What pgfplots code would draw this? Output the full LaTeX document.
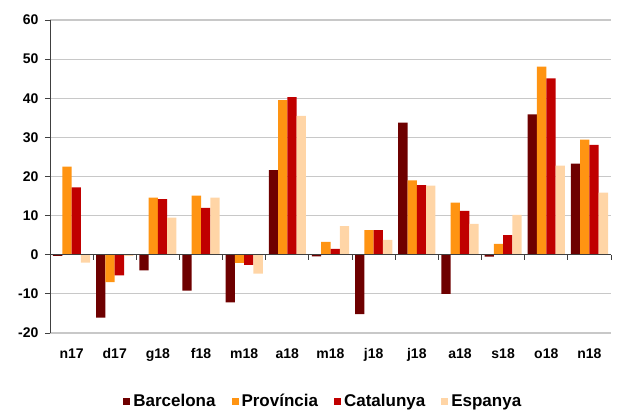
\documentclass[border=0pt]{standalone}
\usepackage{pgfplots}
\pgfplotsset{compat=1.18}
\usepackage{fontspec}
\setmainfont{Liberation Sans}
\definecolor{cB}{HTML}{6E0000}
\definecolor{cP}{HTML}{FF9412}
\definecolor{cC}{HTML}{C00000}
\definecolor{cE}{HTML}{FFD5A6}
\definecolor{gridc}{HTML}{C8C8C8}
\definecolor{axc}{HTML}{404040}
\begin{document}
\begin{tikzpicture}
\path[use as bounding box] (-50pt,-79pt) rectangle (567pt,333pt);
\begin{axis}[
  scale only axis,
  width=561pt, height=313pt,
  xmin=-0.5, xmax=12.5,
  ymin=-20, ymax=60,
  ytick={-20,-10,...,60},
  xtick={0,...,12},
  xticklabels={n17,d17,g18,f18,m18,a18,m18,j18,j18,a18,s18,o18,n18},
  axis y line*=left,
  axis x line*=bottom,
  x axis line style={draw=none},
  y axis line style={draw=axc, line width=1pt, -},
  xtick style={draw=none},
  ytick style={draw=axc, line width=1pt},
  tick align=outside,
  major tick length=5pt,
  ymajorgrids,
  grid style={draw=gridc, line width=1.2pt},
  /pgf/number format/assume math mode=true,
  ticklabel style={font=\bfseries\fontsize{14}{14}\selectfont},
  xticklabel style={yshift=-7pt},
  yticklabel style={xshift=-3pt},
  ybar=0pt, bar width=9.3pt,
  legend columns=4,
  legend style={at={(0.488,-0.22)}, anchor=center, draw=none, fill=none,
    font=\bfseries\fontsize{17}{17}\selectfont,
    /tikz/every even column/.append style={column sep=13pt},
    nodes={inner xsep=3pt, text height=12.5pt, text depth=3.5pt},
    inner xsep=0pt},
  legend image code/.code={\path[#1,draw=none] (0pt,-3.5pt) rectangle (7pt,3.5pt);},
  clip=false,
]
\addplot[fill=cB, draw=none] coordinates {(0,-0.3) (1,-16.1) (2,-4.0) (3,-9.2) (4,-12.2) (5,21.6) (6,-0.4) (7,-15.2) (8,33.8) (9,-10.0) (10,-0.5) (11,35.9) (12,23.3)};
\addplot[fill=cP, draw=none] coordinates {(0,22.5) (1,-7.0) (2,14.6) (3,15.1) (4,-2.1) (5,39.5) (6,3.3) (7,6.3) (8,19.0) (9,13.3) (10,2.8) (11,48.1) (12,29.4)};
\addplot[fill=cC, draw=none] coordinates {(0,17.2) (1,-5.3) (2,14.2) (3,12.0) (4,-2.6) (5,40.3) (6,1.5) (7,6.3) (8,17.8) (9,11.2) (10,5.0) (11,45.1) (12,28.1)};
\addplot[fill=cE, draw=none] coordinates {(0,-2.0) (1,-0.3) (2,9.5) (3,14.6) (4,-4.8) (5,35.5) (6,7.3) (7,3.8) (8,17.7) (9,7.9) (10,10.2) (11,22.8) (12,15.9)};
\legend{Barcelona,Província,Catalunya,Espanya}
\draw[draw=axc, line width=1pt] (axis cs:-0.5,0) -- (axis cs:12.5,0);
\pgfplotsinvokeforeach{0,...,13}{\draw[draw=axc, line width=1pt] (axis cs:#1-0.5,0) -- ([yshift=-5pt]axis cs:#1-0.5,0);}
\end{axis}
\end{tikzpicture}
\end{document}
